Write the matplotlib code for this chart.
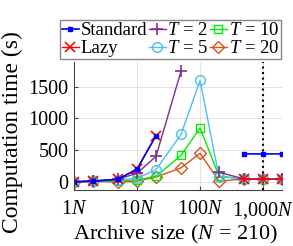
import matplotlib.pyplot as plt
import numpy as np

plt.rcParams['font.family'] = 'Liberation Serif'
plt.rcParams['mathtext.fontset'] = 'custom'
plt.rcParams['mathtext.rm'] = 'Liberation Serif'
plt.rcParams['mathtext.it'] = 'Liberation Serif:italic'

# archive size as multiple of N
sizes = [1, 2, 5, 10, 20, 50, 100, 200, 500, 1000, 2000]

standard = [0, 10, 40, 200, 730, np.nan, np.nan, np.nan, 440, 440, 440]
lazy = [0, 10, 40, 200, 730, np.nan, np.nan, np.nan, 40, 40, 40]
t2 = [0, 10, 40, 135, 400, 1750, np.nan, 150, 45, 45, 45]
t5 = [0, 10, 30, 55, 190, 750, 1600, 80, 45, 45, 45]
t10 = [0, 5, 15, 30, 85, 420, 850, 90, 45, 45, 45]
t20 = [0, 5, -5, 10, 75, 220, 450, 10, 45, 45, 45]

xticks = [1, 10, 100, 1000]
xticklabels = [r'1$N$', r'10$N$', r'100$N$', r'1,000$N$']
yticks = [0, 500, 1000, 1500]

fig = plt.figure(figsize=(2.93, 2.46), dpi=100)
ax = fig.add_axes([0.2526, 0.2276, 0.71, 0.52])

ax.axvline(1000, color='black', linestyle=':', linewidth=1.5, zorder=1)

# drawing order so red/blue end up on top
h20, = ax.plot(sizes, t20, '-D', color='#D95319', mfc='none', ms=6, lw=1, label=r'$T$ = 20')
h10, = ax.plot(sizes, t10, '-s', color='#00EE00', mfc='none', ms=6, lw=1, label=r'$T$ = 10')
h5, = ax.plot(sizes, t5, '-o', color='#4DBEEE', mfc='none', ms=7, lw=1, label=r'$T$ = 5')
h2, = ax.plot(sizes, t2, '-+', color='#7E2F8E', ms=8, mew=1.2, lw=1, label=r'$T$ = 2')
hl, = ax.plot(sizes, lazy, '-x', color='#FF0000', ms=7, mew=1.2, lw=1, label='Lazy')
hs, = ax.plot(sizes, standard, '-s', color='#0000FF', ms=3, lw=1.2, label='Standard')

ax.set_xscale('log')
ax.set_xlim(1, 2000)
ax.set_ylim(-130, 1890)
ax.set_xticks(xticks)
ax.set_xticklabels(xticklabels)
ax.set_yticks(yticks)
ax.tick_params(labelsize=14.5, direction='in', length=3, color='#444444')
ax.tick_params(which='minor', direction='in', length=2, color='#444444')
ax.tick_params(axis='x', pad=7)
ax.tick_params(axis='y', pad=4)
ax.grid(True, which='major', color='#dddddd', linewidth=0.6)
ax.grid(True, which='minor', axis='x', color='#e8e8e8', linewidth=0.5)
ax.set_axisbelow(True)
for s in ['top', 'right']:
    ax.spines[s].set_visible(False)
for s in ['left', 'bottom']:
    ax.spines[s].set_color('#444444')

ax.set_xlabel(r'Archive size ($N$ = 210)', fontsize=16)
ax.set_ylabel('Computation time (s)', fontsize=17)
ax.xaxis.set_label_coords(0.49, -0.258)
ax.yaxis.set_label_coords(-0.245, 0.453)

leg = fig.legend([hs, hl, h2, h5, h10, h20],
                 ['Standard', 'Lazy', r'$T$ = 2', r'$T$ = 5', r'$T$ = 10', r'$T$ = 20'],
                 ncol=3, loc='lower left', bbox_to_anchor=(0.205, 0.76, 0.754, 0.179),
                 mode='expand', borderaxespad=0, fontsize=13.5, handlelength=0.9,
                 handletextpad=0.1, columnspacing=0.4, labelspacing=0.05,
                 borderpad=0.1, fancybox=False, framealpha=1)
leg.get_frame().set_edgecolor('#888888')
leg.get_frame().set_linewidth(1)

fig.savefig('out.png', dpi=100)
